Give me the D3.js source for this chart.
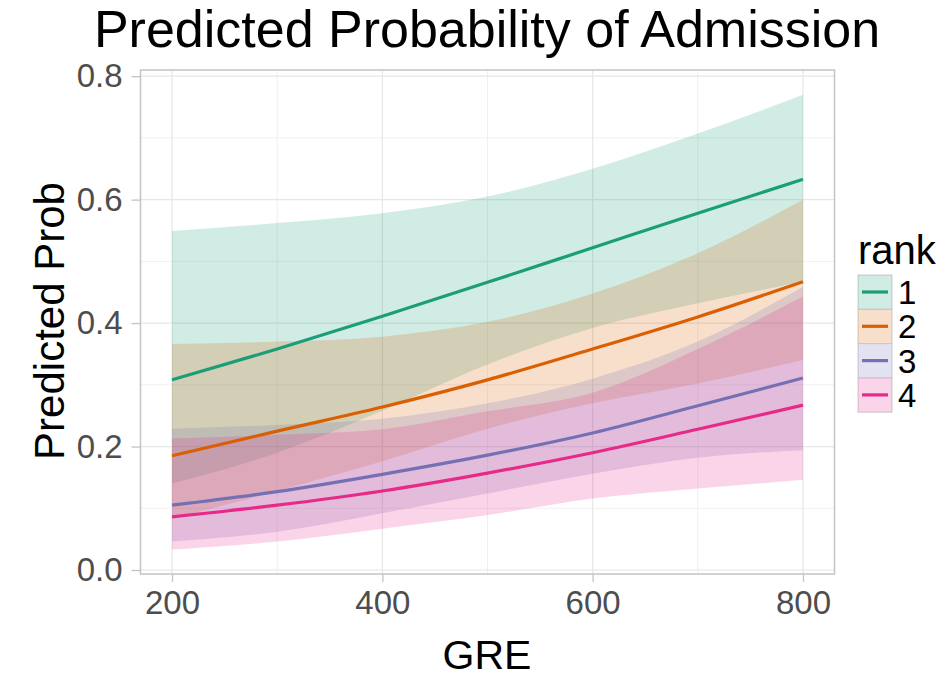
<!DOCTYPE html>
<html>
<head>
<meta charset="utf-8">
<script src="https://cdnjs.cloudflare.com/ajax/libs/d3/7.8.5/d3.min.js"></script>
<style>
  body { margin: 0; background: #fff; }
  text { font-family: "Liberation Sans", Arial, sans-serif; }
</style>
</head>
<body>
<div id="chart"></div>
<script>
// data
var gre = [200, 300, 400, 500, 600, 700, 800];
var ranks = ["1", "2", "3", "4"];
var colors = ["#1b9e77", "#d95f02", "#7570b3", "#e7298a"];

var fit1 = [0.308, 0.358, 0.411, 0.466, 0.522, 0.578, 0.633];
var lo1  = [0.140, 0.190, 0.258, 0.333, 0.392, 0.432, 0.467];
var hi1  = [0.549, 0.562, 0.578, 0.605, 0.650, 0.707, 0.770];

var fit2 = [0.185, 0.225, 0.264, 0.308, 0.358, 0.410, 0.467];
var lo2  = [0.083, 0.128, 0.176, 0.229, 0.270, 0.302, 0.340];
var hi2  = [0.366, 0.370, 0.378, 0.402, 0.448, 0.513, 0.600];

var fit3 = [0.105, 0.127, 0.155, 0.186, 0.222, 0.266, 0.311];
var lo3  = [0.046, 0.062, 0.092, 0.124, 0.156, 0.182, 0.194];
var hi3  = [0.229, 0.235, 0.245, 0.270, 0.310, 0.370, 0.459];

var fit4 = [0.086, 0.105, 0.128, 0.157, 0.190, 0.228, 0.267];
var lo4  = [0.033, 0.046, 0.067, 0.089, 0.116, 0.132, 0.146];
var hi4  = [0.213, 0.219, 0.228, 0.257, 0.287, 0.358, 0.443];

var xTicks = [200, 400, 600, 800];
var xMinor = [300, 500, 700];
var yTicks = [0, 0.2, 0.4, 0.6, 0.8];
var yMinor = [0.1, 0.3, 0.5, 0.7];

var series = [
  {rank: "1", fit: fit1, lo: lo1, hi: hi1},
  {rank: "2", fit: fit2, lo: lo2, hi: hi2},
  {rank: "3", fit: fit3, lo: lo3, hi: hi3},
  {rank: "4", fit: fit4, lo: lo4, hi: hi4}
];

var W = 947, H = 683;
var panel = {left: 140.5, right: 834.5, top: 70, bottom: 574};

var svg = d3.select("#chart").append("svg")
  .attr("width", W)
  .attr("height", H);

var x = d3.scaleLinear().domain([170, 830]).range([panel.left, panel.right]);
var y = d3.scaleLinear().domain([-0.0065, 0.81]).range([panel.bottom, panel.top]);
var color = d3.scaleOrdinal().domain(ranks).range(colors);

// panel background + grid
svg.append("rect")
  .attr("x", panel.left).attr("y", panel.top)
  .attr("width", panel.right - panel.left)
  .attr("height", panel.bottom - panel.top)
  .attr("fill", "#fff");

var grid = svg.append("g");
grid.selectAll(".ymin").data(yMinor).enter().append("line")
  .attr("x1", panel.left).attr("x2", panel.right)
  .attr("y1", function(d){ return y(d); }).attr("y2", function(d){ return y(d); })
  .attr("stroke", "#f0f0f0").attr("stroke-width", 1);
grid.selectAll(".xmin").data(xMinor).enter().append("line")
  .attr("y1", panel.top).attr("y2", panel.bottom)
  .attr("x1", function(d){ return x(d); }).attr("x2", function(d){ return x(d); })
  .attr("stroke", "#f0f0f0").attr("stroke-width", 1);
grid.selectAll(".ymaj").data(yTicks).enter().append("line")
  .attr("x1", panel.left).attr("x2", panel.right)
  .attr("y1", function(d){ return y(d); }).attr("y2", function(d){ return y(d); })
  .attr("stroke", "#e6e6e6").attr("stroke-width", 1.2);
grid.selectAll(".xmaj").data(xTicks).enter().append("line")
  .attr("y1", panel.top).attr("y2", panel.bottom)
  .attr("x1", function(d){ return x(d); }).attr("x2", function(d){ return x(d); })
  .attr("stroke", "#e6e6e6").attr("stroke-width", 1.2);

// ribbons then lines
var area = d3.area()
  .x(function(d, i){ return x(gre[i]); })
  .y0(function(d){ return y(d[0]); })
  .y1(function(d){ return y(d[1]); })
  .curve(d3.curveMonotoneX);

var line = d3.line()
  .x(function(d, i){ return x(gre[i]); })
  .y(function(d){ return y(d); })
  .curve(d3.curveMonotoneX);

svg.append("g").selectAll("path")
  .data(series).enter().append("path")
  .attr("d", function(s){ return area(s.lo.map(function(v, i){ return [v, s.hi[i]]; })); })
  .attr("fill", function(s){ return color(s.rank); })
  .attr("fill-opacity", 0.2);

svg.append("g").selectAll("path")
  .data(series).enter().append("path")
  .attr("d", function(s){ return line(s.fit); })
  .attr("fill", "none")
  .attr("stroke", function(s){ return color(s.rank); })
  .attr("stroke-width", 3.2);

// panel border
svg.append("rect")
  .attr("x", panel.left).attr("y", panel.top)
  .attr("width", panel.right - panel.left)
  .attr("height", panel.bottom - panel.top)
  .attr("fill", "none")
  .attr("stroke", "#c4c4c4").attr("stroke-width", 1.5);

// axes
var xAxis = svg.append("g")
  .attr("transform", "translate(0," + panel.bottom + ")")
  .call(d3.axisBottom(x).tickValues(xTicks).tickSize(8).tickPadding(9));
var yAxis = svg.append("g")
  .attr("transform", "translate(" + panel.left + ",0)")
  .call(d3.axisLeft(y).tickValues(yTicks).tickSize(9).tickPadding(9).tickFormat(d3.format(".1f")));

[xAxis, yAxis].forEach(function(a){
  a.select(".domain").remove();
  a.selectAll(".tick line").attr("stroke", "#c4c4c4").attr("stroke-width", 1.3);
  a.selectAll(".tick text")
    .attr("fill", "#4d4d4d")
    .attr("font-size", "33px")
    .attr("font-family", "Liberation Sans, Arial, sans-serif");
});

// titles
svg.append("text")
  .text("Predicted Probability of Admission")
  .attr("x", 487).attr("y", 47)
  .attr("text-anchor", "middle")
  .attr("font-size", "52px");

svg.append("text")
  .text("GRE")
  .attr("x", 487).attr("y", 669)
  .attr("text-anchor", "middle")
  .attr("font-size", "41px");

svg.append("text")
  .text("Predicted Prob")
  .attr("transform", "translate(64," + 321 + ") rotate(-90)")
  .attr("text-anchor", "middle")
  .attr("font-size", "42px");

// legend
var legend = svg.append("g").attr("transform", "translate(858,240)");
legend.append("text")
  .text("rank")
  .attr("x", 0).attr("y", 24)
  .attr("font-size", "40px");

var keys = legend.selectAll(".key").data(ranks).enter().append("g")
  .attr("transform", function(d, i){ return "translate(0," + (35 + i * 34.3) + ")"; });
keys.append("rect")
  .attr("width", 34).attr("height", 34.3)
  .attr("fill", "#fff")
  .attr("stroke", "#d0d0d0").attr("stroke-width", 1);
keys.append("rect")
  .attr("width", 34).attr("height", 34.3)
  .attr("fill", function(d){ return color(d); })
  .attr("fill-opacity", 0.2);
keys.append("line")
  .attr("x1", 4).attr("x2", 30)
  .attr("y1", 17).attr("y2", 17)
  .attr("stroke", function(d){ return color(d); })
  .attr("stroke-width", 3.2);
keys.append("text")
  .text(function(d){ return d; })
  .attr("x", 40).attr("y", 29)
  .attr("font-size", "33px");
</script>
</body>
</html>
